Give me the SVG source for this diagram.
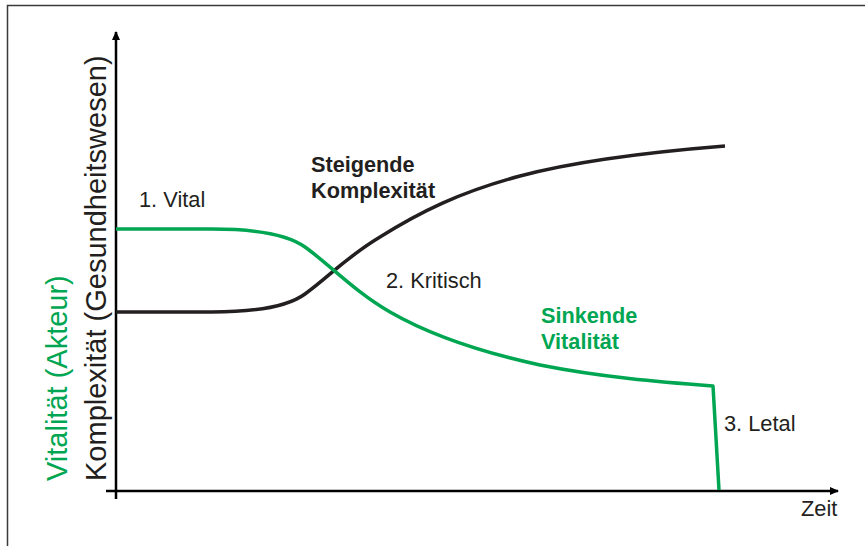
<svg xmlns="http://www.w3.org/2000/svg" width="865" height="546" viewBox="0 0 865 546">
<style>
.t{font-family:"Liberation Sans",Arial,sans-serif;font-size:21.8px;fill:#231f20}
.b{font-family:"Liberation Sans",Arial,sans-serif;font-size:21.7px;font-weight:bold}
.ax{font-family:"Liberation Sans",Arial,sans-serif;font-size:29px}
.frame{stroke:#3a3a3a;stroke-width:1.5;fill:none}
.axis{stroke:#000;stroke-width:2.5;fill:none}
.curve{fill:none;stroke-width:3.5;stroke-linejoin:round}
</style>
<defs>
<marker id="ah" markerWidth="10" markerHeight="10" refX="8" refY="4" orient="auto" markerUnits="userSpaceOnUse">
<path d="M0,0 L9,4 L0,8 Z" fill="#000"/>
</marker>
</defs>
<rect width="865" height="546" fill="#fff"/>
<path class="frame" d="M7.5,546 L7.5,5.5 L865,5.5"/>
<g id="connectors">
<path class="axis" d="M116,499 L116,32" marker-end="url(#ah)"/>
<path class="axis" d="M106,491 L838,491" marker-end="url(#ah)"/>
<path id="komplexitaet" class="curve" stroke="#231f20" d="M116,312 L212,312 C260,312 290,305 305,294 C330,276 345,258 380,237 C420,212 460,192 520,176 C580,160 650,152 725,146"/>
<path id="vitalitaet" class="curve" stroke="#00a651" d="M116,229 L212,229 C260,229 290,236 305,247 C330,265 355,292 390,312 C430,335 480,352 540,365 C600,377 660,382 713,386 L719,490"/>
</g>
<g id="ylabels">
<text class="ax" fill="#00a651" transform="translate(67,481) rotate(-90)">Vitalität (Akteur)</text>
<text class="ax" fill="#231f20" transform="translate(106,481) rotate(-90)">Komplexität (Gesundheitswesen)</text>
</g>
<g id="vital"><text class="t" x="139" y="207">1. Vital</text></g>
<g id="steigend"><text class="b" fill="#231f20" x="311" y="172">Steigende</text><text class="b" fill="#231f20" x="311" y="198">Komplexität</text></g>
<g id="kritisch"><text class="t" x="386" y="288">2. Kritisch</text></g>
<g id="sinkend"><text class="b" fill="#00a651" x="541" y="323">Sinkende</text><text class="b" fill="#00a651" x="541" y="349">Vitalität</text></g>
<g id="letal"><text class="t" x="724" y="431">3. Letal</text></g>
<g id="zeit"><text class="t" x="801" y="516">Zeit</text></g>
</svg>
